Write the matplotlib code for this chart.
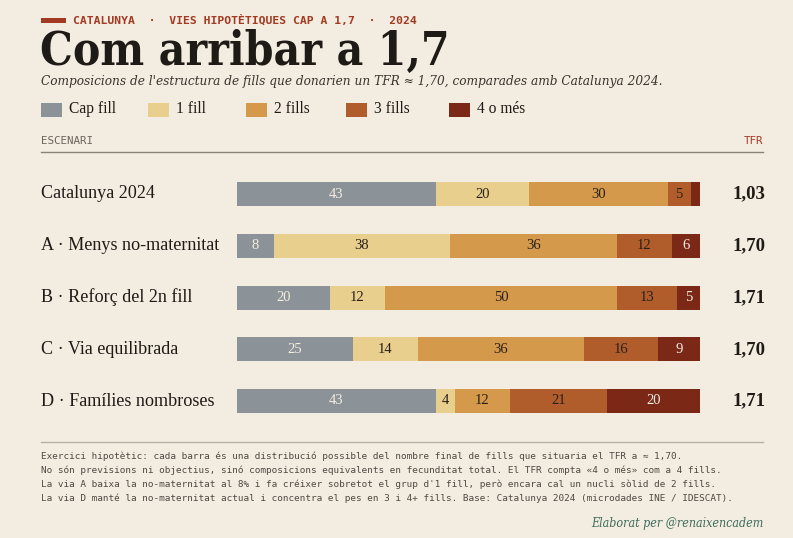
import matplotlib
matplotlib.use("Agg")
import matplotlib.pyplot as plt
import matplotlib.transforms as mtransforms
from matplotlib.patches import Rectangle

# ---------------- data ----------------
scenarios = ["Catalunya 2024", "A · Menys no-maternitat", "B · Reforç del 2n fill",
             "C · Via equilibrada", "D · Famílies nombroses"]
cap_fill = [43, 8, 20, 25, 43]
un_fill = [20, 38, 12, 14, 4]
dos_fills = [30, 36, 50, 36, 12]
tres_fills = [5, 12, 13, 16, 21]
quatre_mes = [2, 6, 5, 9, 20]
tfr = ["1,03", "1,70", "1,71", "1,70", "1,71"]
series_names = ["Cap fill", "1 fill", "2 fills", "3 fills", "4 o més"]

header = "CATALUNYA  ·  VIES HIPOTÈTIQUES CAP A 1,7  ·  2024"
title = "Com arribar a 1,7"
subtitle = "Composicions de l'estructura de fills que donarien un TFR ≈ 1,70, comparades amb Catalunya 2024."
notes = [
    "Exercici hipotètic: cada barra és una distribució possible del nombre final de fills que situaria el TFR a ≈ 1,70.",
    "No són previsions ni objectius, sinó composicions equivalents en fecunditat total. El TFR compta «4 o més» com a 4 fills.",
    "La via A baixa la no-maternitat al 8% i fa créixer sobretot el grup d'1 fill, però encara cal un nucli sòlid de 2 fills.",
    "La via D manté la no-maternitat actual i concentra el pes en 3 i 4+ fills. Base: Catalunya 2024 (microdades INE / IDESCAT).",
]
credit = "Elaborat per @renaixencadem"

# ---------------- style ----------------
BG = "#f3ece1"
colors = ["#8b9398", "#e8cf8d", "#d4994b", "#b15d2b", "#7b2817"]
text_colors = ["#f3ece1", "#2a2018", "#2a2018", "#2a2018", "#f3ece1"]
RED = "#a33a22"
DARK = "#1e1a16"
SERIF = ["Liberation Serif", "DejaVu Serif"]
DJS = ["DejaVu Serif"]
MONO = ["DejaVu Sans Mono"]

W, H = 793, 538
fig = plt.figure(figsize=(W / 100, H / 100), dpi=100, facecolor=BG)


def fx(px):
    return px / W


def fy(py):
    return 1 - py / H


# header
fig.patches.append(Rectangle((fx(41), fy(23)), fx(25), 5 / H, transform=fig.transFigure,
                             color=RED, lw=0))
fig.text(fx(73), fy(20.5), header, fontsize=8.2, family=MONO, weight="bold", color=RED,
         va="center", ha="left")
fig.text(fx(40), fy(65), title, fontsize=33, family=DJS, weight="bold", stretch="condensed",
         color=DARK, va="baseline", ha="left")
fig.text(fx(41), fy(82), subtitle, fontsize=9.7, family=DJS, style="italic",
         stretch="condensed", color="#3a342e", va="center", ha="left")

# legend
leg_x = [41, 148, 246, 346, 449]
for name, c, x in zip(series_names, colors, leg_x):
    fig.patches.append(Rectangle((fx(x), fy(117)), fx(21), 14 / H, transform=fig.transFigure,
                                 color=c, lw=0))
    fig.text(fx(x + 28), fy(109), name, fontsize=11.2, family=SERIF, color=DARK,
             va="center", ha="left")

fig.text(fx(41), fy(141), "ESCENARI", fontsize=7.8, family=MONO, color="#6b645c",
         va="center", ha="left")
fig.text(fx(763), fy(141), "TFR", fontsize=7.8, family=MONO, color=RED,
         va="center", ha="right")
fig.add_artist(plt.Line2D([fx(41), fx(763)], [fy(152), fy(152)], color="#8a8178", lw=1.0))
fig.add_artist(plt.Line2D([fx(41), fx(763)], [fy(442), fy(442)], color="#b9b0a4", lw=1.0))

# bars
spacing = (401 - 194) / 4
top_px = 194 - spacing / 2
bot_px = 401 + spacing / 2
ax = fig.add_axes([fx(237), fy(bot_px), fx(700) - fx(237), (bot_px - top_px) / H])
ax.set_facecolor("none")
ax.set_xlim(0, 100)
ax.set_ylim(len(scenarios) - 0.5, -0.5)
ax.axis("off")

series = [cap_fill, un_fill, dos_fills, tres_fills, quatre_mes]
ypos = list(range(len(scenarios)))
left = [0.0] * len(scenarios)
bar_h = 24 / spacing
for vals, c, tc in zip(series, colors, text_colors):
    ax.barh(ypos, vals, left=left, height=bar_h, color=c, edgecolor="none")
    for i, v in enumerate(vals):
        if v >= 4:
            ax.text(left[i] + v / 2, i, str(v), ha="center", va="center", fontsize=10.5,
                    family=SERIF, color=tc)
    left = [l + v for l, v in zip(left, vals)]

trans = mtransforms.blended_transform_factory(fig.transFigure, ax.transData)
for i, (name, t) in enumerate(zip(scenarios, tfr)):
    ax.text(fx(41), i, name, transform=trans, ha="left", va="center", fontsize=13.1,
            family=SERIF, color=DARK)
    ax.text(fx(765), i, t, transform=trans, ha="right", va="center", fontsize=13.5,
            family=SERIF, weight="bold", color=DARK)

# notes
for k, line in enumerate(notes):
    fig.text(fx(41), fy(456 + 14 * k), line, fontsize=6.75, family=MONO, color="#4f4943",
             va="center", ha="left")
fig.text(fx(763), fy(524), credit, fontsize=8.9, family=DJS, style="italic",
         stretch="condensed", color="#3f6b5c", va="center", ha="right")

fig.savefig("out.png", dpi=100, facecolor=BG)
